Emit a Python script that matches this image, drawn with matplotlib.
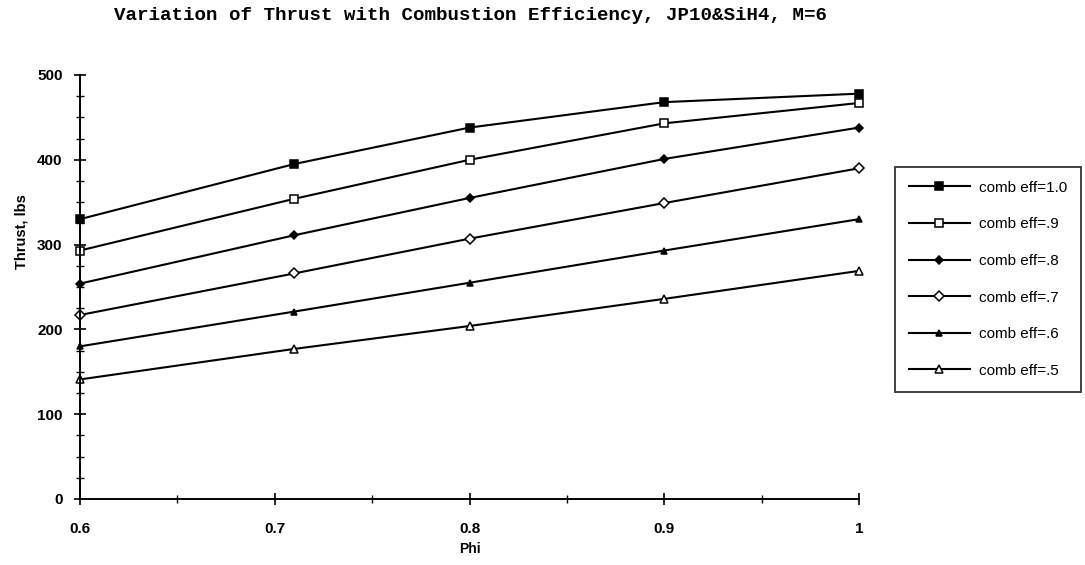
import matplotlib
matplotlib.use("Agg")
import matplotlib.pyplot as plt
from matplotlib.ticker import MultipleLocator

# data
phi = [0.6, 0.71, 0.8, 0.9, 1.0]
eff_10 = [330, 395, 438, 468, 478]
eff_09 = [293, 354, 400, 443, 467]
eff_08 = [254, 311, 355, 401, 438]
eff_07 = [217, 266, 307, 349, 390]
eff_06 = [180, 221, 255, 293, 330]
eff_05 = [141, 177, 204, 236, 269]
labels = ["comb eff=1.0", "comb eff=.9", "comb eff=.8",
          "comb eff=.7", "comb eff=.6", "comb eff=.5"]

series = [eff_10, eff_09, eff_08, eff_07, eff_06, eff_05]
styles = [
    dict(marker="s", ms=6, mfc="black"),
    dict(marker="s", ms=6, mfc="white"),
    dict(marker="D", ms=4, mfc="black"),
    dict(marker="D", ms=5, mfc="white"),
    dict(marker="^", ms=5, mfc="black"),
    dict(marker="^", ms=5.5, mfc="white"),
]

plt.rcParams["font.family"] = ["Liberation Sans", "DejaVu Sans"]

fig = plt.figure(figsize=(10.85, 5.65), dpi=100)
ax = fig.add_axes([80 / 1085, 66 / 565, 779 / 1085, 424 / 565])

for vals, lab, st in zip(series, labels, styles):
    ax.plot(phi, vals, color="black", lw=1.5, mec="black", mew=1.1,
            label=lab, clip_on=False, **st)

ax.set_xlim(0.6, 1.0)
ax.set_ylim(0, 500)
for s in ("top", "right"):
    ax.spines[s].set_visible(False)
for s in ("left", "bottom"):
    ax.spines[s].set_linewidth(1.4)

ax.xaxis.set_minor_locator(MultipleLocator(0.05))
ax.yaxis.set_major_locator(MultipleLocator(100))
ax.yaxis.set_minor_locator(MultipleLocator(25))
ax.set_xticks([0.6, 0.7, 0.8, 0.9, 1.0])
ax.set_xticklabels(["0.6", "0.7", "0.8", "0.9", "1"])
ax.tick_params(which="major", direction="inout", length=9, width=1.2,
               labelsize=11)
ax.tick_params(which="minor", direction="inout", length=6, width=1.0)
ax.tick_params(axis="x", pad=12)
ax.tick_params(axis="y", pad=8)
for t in ax.get_xticklabels() + ax.get_yticklabels():
    t.set_fontweight("bold")

ax.set_xlabel("Phi", fontsize=10, weight="bold")
ax.set_ylabel("Thrust, lbs", fontsize=10.5, weight="bold")
ax.xaxis.set_label_coords((470 - 80) / 779, (499 - 542) / 424)
ax.yaxis.set_label_coords((28 - 80) / 779, (499 - 232) / 424)

fig.text(470 / 1085, 1 - 16 / 565,
         "Variation of Thrust with Combustion Efficiency, JP10&SiH4, M=6",
         ha="center", va="center", fontsize=13.75, weight="bold",
         family="Liberation Mono")

leg = fig.legend(loc="upper left", bbox_to_anchor=(895 / 1085, 1 - 167 / 565),
                 frameon=True, fancybox=False, edgecolor="black",
                 fontsize=11, handlelength=4.0, labelspacing=1.48,
                 borderpad=0.9, handletextpad=0.6, borderaxespad=0)
leg.get_frame().set_linewidth(1.3)

fig.savefig("out.png", dpi=100, facecolor="white")
